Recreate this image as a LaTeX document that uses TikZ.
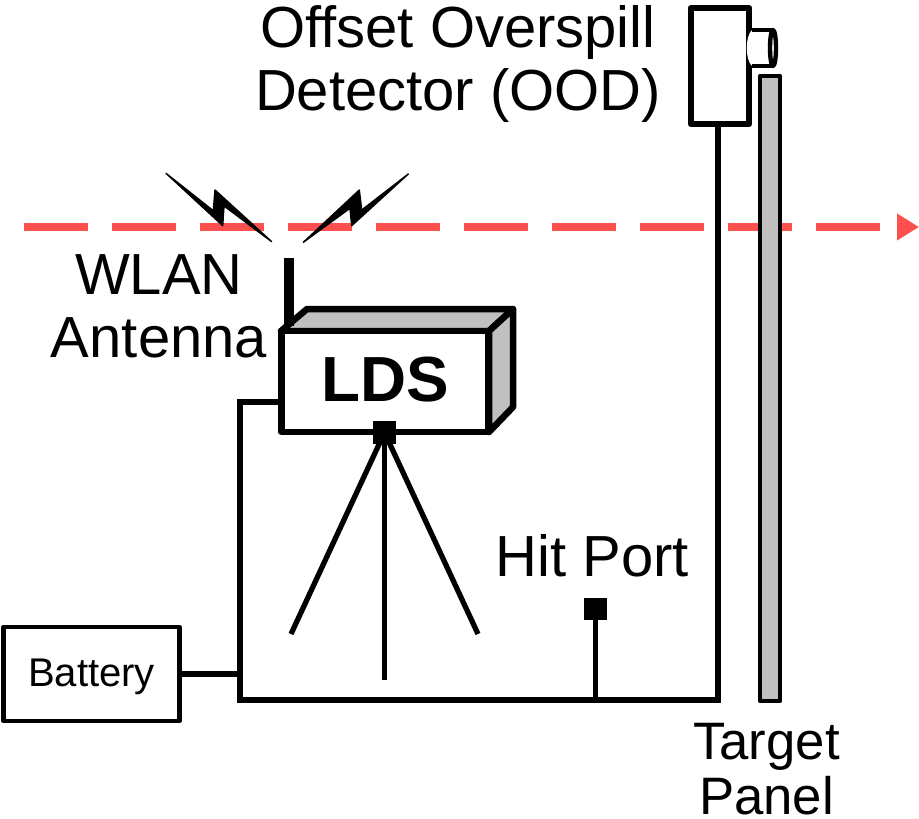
\documentclass[tikz,border=0pt]{standalone}
\usepackage{fontspec}
\setmainfont{Liberation Sans}
\usetikzlibrary{arrows.meta}
\definecolor{panelgray}{HTML}{C0C0C0}
\definecolor{beamred}{HTML}{FF5050}
\tikzset{
  wire/.style={line width=3.7pt,line join=round},
  buswire/.style={line width=3.5pt,line join=miter},
  thinwire/.style={line width=3.0pt},
  thinbox/.style={line width=2.5pt,line join=round},
  bolt/.style={fill=black,draw=black,line width=0.8pt,line join=round},
  bigtext/.style={font=\fontsize{33}{35.7}\selectfont,align=center,inner sep=0pt},
  portsq/.style={fill=black,minimum size=12.8pt,inner sep=0pt,outer sep=0pt}
}
\begin{document}
\begin{tikzpicture}[x=0.02cm,y=-0.02cm]
  \useasboundingbox (0,0) rectangle (919,818);

  % beam
  \coordinate (BeamL) at (24,227);
  \coordinate (BeamR) at (919,227);
  \draw[beamred,line width=4.2pt,dash pattern=on 36.42pt off 13.65pt,
    -{Triangle[length=12.5pt,width=14.5pt]}] (BeamL) -- (BeamR);

  % radio bolts
  \path[bolt] (166,173.3) -- (213.3,210.7) -- (215,190) -- (271.7,241.7)
    -- (224,206) -- (222.7,225.7) -- cycle;
  \path[bolt] (408.3,174) -- (361.7,210) -- (359.3,190) -- (303.3,242.3)
    -- (350,208.3) -- (351.7,225.7) -- cycle;

  % target panel
  \draw[thinbox,fill=panelgray] (760,76) rectangle (780,701);

  % offset detector
  \draw[wire,fill=white] (691,8) rectangle (749,124);
  \fill[white] (773,30) -- (752,30) .. controls (745,36) and (745,60) .. (752,66)
    -- (773,66) -- cycle;
  \draw[thinbox] (752,30) -- (773,30) (752,66) -- (773,66);
  \draw[thinbox,fill=white] (773,48) ellipse (3 and 18);

  % LDS box
  \draw[wire,fill=panelgray] (281,331) -- (307,309) -- (513,309) -- (489,331) -- cycle;
  \draw[wire,fill=panelgray] (489,331) -- (513,309) -- (513,407) -- (489,432) -- cycle;
  \node[draw,wire,fill=white,minimum width=118pt,minimum height=57.3pt,inner sep=0pt,
    text depth=2.3pt,font=\fontsize{36.3}{38}\bfseries\selectfont] (LDS) at (385,381.5) {LDS};
  \coordinate (AntTop) at (289,258);
  \coordinate (AntBot) at (289,326);
  \draw[line width=6.2pt] (AntTop) -- (AntBot);

  % tripod
  \node[portsq] (Mount) at (384.5,432.5) {};
  \coordinate (LegL) at (291,634);
  \coordinate (LegC) at (384.5,680);
  \coordinate (LegR) at (478,634);
  \draw[thinwire] (Mount.center) -- (LegL);
  \draw[thinwire] (Mount.center) -- (LegC);
  \draw[thinwire] (Mount.center) -- (LegR);

  % battery and wiring
  \node[draw,thinbox,minimum width=100pt,minimum height=53.5pt,inner sep=0pt,
    text height=18.6pt,font=\fontsize{22.8}{24}\selectfont] (Battery) at (91.5,674) {Battery};
  \node[portsq] (HitPort) at (595.5,609) {};
  \coordinate (BusL) at (240,700);
  \coordinate (BusR) at (718,700);
  \coordinate (BusH) at (595.5,700);
  \coordinate (BusB) at (240,674);
  \coordinate (LdsFeed) at (240,402);
  \coordinate (OodFeed) at (718,124);
  \draw[buswire] (LDS.west |- LdsFeed) -- (LdsFeed) -- (BusL) -- (BusR) -- (OodFeed);
  \draw[buswire] (Battery.east |- BusB) -- (BusB);
  \draw[thinwire] (HitPort) -- (BusH);

  % labels
  \node[bigtext] (OodLabel) at (458,64) {Offset Overspill\\Detector (OOD)};
  \node[bigtext] (WlanLabel) at (159,306) {WLAN\\Antenna};
  \node[bigtext,anchor=base] (HitLabel) at (592.5,576) {Hit Port};
  \node[bigtext,font=\fontsize{30}{31.3}\selectfont] (PanelLabel) at (766.5,769) {Target\\Panel};
\end{tikzpicture}
\end{document}
